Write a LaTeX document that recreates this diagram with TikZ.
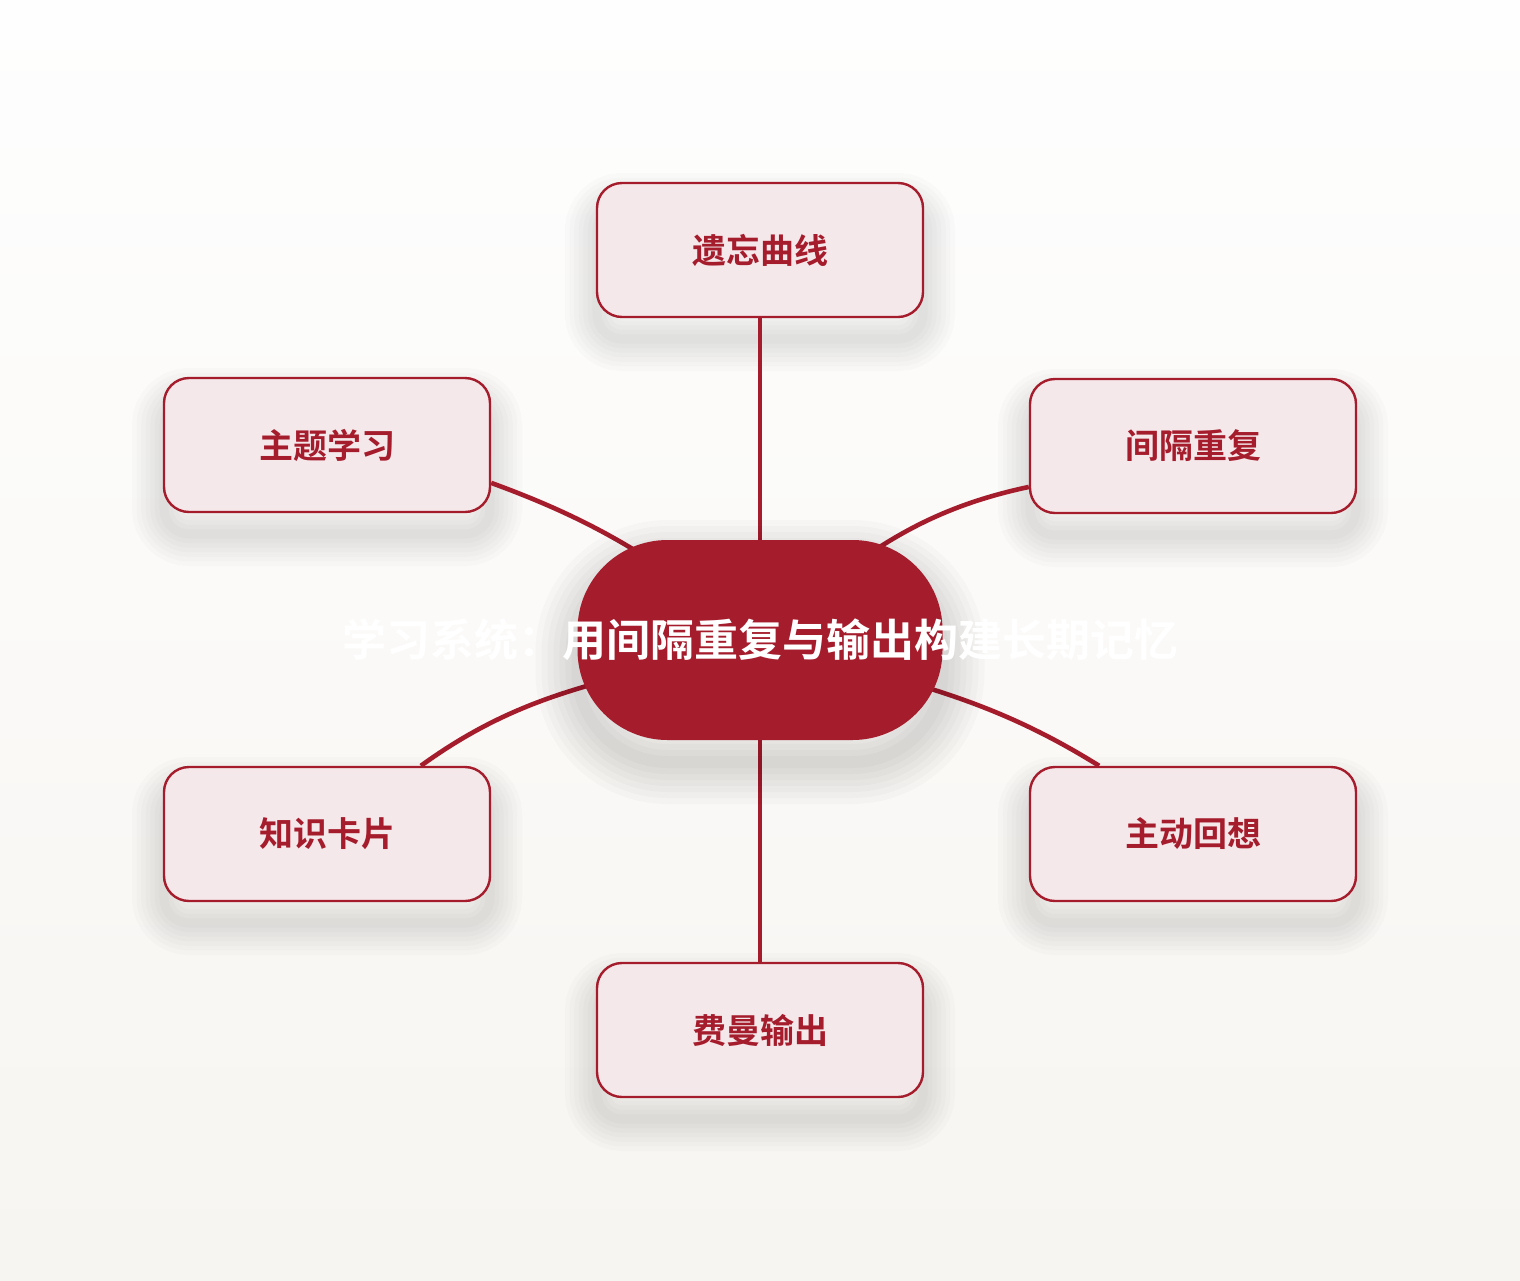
\documentclass[tikz,border=0pt]{standalone}
\usepackage{fontspec}
\setmainfont{Noto Sans CJK SC}[BoldFont={Noto Sans CJK SC Bold}]
\definecolor{darkred}{HTML}{A51C2C}
\definecolor{pinkfill}{HTML}{F5E8EA}
\definecolor{bgtop}{HTML}{FEFEFE}
\definecolor{bgbot}{HTML}{F7F5F1}

\begin{document}
\begin{tikzpicture}[x=0.5pt,y=0.5pt,
    halo ring/.style n args={3}{preaction={draw=black,fill=none,draw opacity=#1,line width=#2,transform canvas={yshift=#3}}},
    halo/.style n args={3}{halo ring={#1}{#2}{#3},halo ring={#1}{0.857*#2}{#3},halo ring={#1}{0.714*#2}{#3},
      halo ring={#1}{0.571*#2}{#3},halo ring={#1}{0.429*#2}{#3},halo ring={#1}{0.286*#2}{#3},halo ring={#1}{0.143*#2}{#3}},
    topic/.style={halo={0.016}{32pt}{-11pt},draw=darkred,line width=1.2pt,fill=pinkfill,rounded corners=12.5pt,
      minimum width=163pt,minimum height=67pt,text=darkred,font=\bfseries\fontsize{17pt}{20pt}\selectfont},
    hub/.style={halo={0.02}{42pt}{-11pt},fill=darkred,rounded corners=45pt,minimum width=182.5pt,minimum height=100pt,
      text=white,font=\bfseries\fontsize{22pt}{26pt}\selectfont},
    link/.style={draw=darkred,line width=2.3pt}]
  % background
  \shade[top color=bgtop,bottom color=bgbot] (0,0) rectangle (1520,-1280);
  \useasboundingbox (0,0) rectangle (1520,-1280);

  \node[topic] (curve) at (760,-250) {遗忘曲线};
  \node[topic] (topic) at (327,-445) {主题学习};
  \node[topic] (spaced) at (1193,-446) {间隔重复};
  \node[topic] (cards) at (327,-834) {知识卡片};
  \node[topic] (recall) at (1193,-834) {主动回想};
  \node[topic] (feyman) at (760,-1030) {费曼输出};

  % links run into the middle, the hub covers their ends
  \coordinate (mid) at (760,-640);
  \path[link]
    (curve.south) edge (mid)
    (topic.-13) edge [out=-20,in=142] (mid)
    (spaced.194) edge [out=192,in=40] (mid)
    (cards.36) edge [out=36,in=197] (mid)
    (recall.144) edge [out=148,in=-17] (mid)
    (feyman.north) edge (mid);

  \node[hub] (system) at (mid) {\makebox[0pt]{学习系统：用间隔重复与输出构建长期记忆}};
\end{tikzpicture}
\end{document}
